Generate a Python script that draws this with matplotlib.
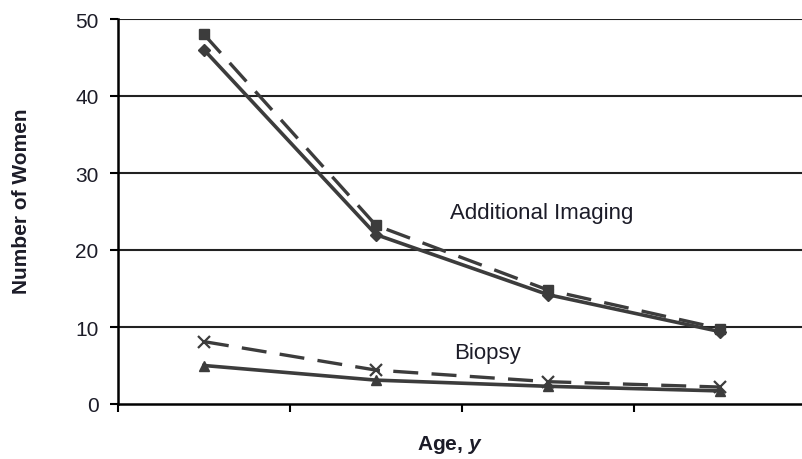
import numpy as np
import matplotlib
matplotlib.use("Agg")
from matplotlib import pyplot as plt

plt.rcParams['font.family'] = ['Liberation Sans', 'DejaVu Sans']
plt.rcParams['mathtext.fontset'] = 'custom'
plt.rcParams['mathtext.bfit'] = 'Liberation Sans:italic:bold'

# four age groups (no labels shown on the axis)
groups = [0.5, 1.5, 2.5, 3.5]
imaging_dashed = [48.0, 23.2, 14.8, 9.8]
imaging_solid = [46.0, 22.0, 14.2, 9.4]
biopsy_dashed = [8.1, 4.4, 2.9, 2.2]
biopsy_solid = [5.0, 3.1, 2.3, 1.7]
y_ticks = [0, 10, 20, 30, 40, 50]

col = '#3c3c3c'
txt = '#1c1c28'
dash = (0, (7.5, 4))

fig = plt.figure(figsize=(8.03, 4.6), dpi=100)
ax = fig.add_axes([118/803, 1-405/460, 688/803, 385/460])

ax.plot(groups, imaging_dashed, color=col, lw=2.4, ls=dash,
        marker='s', ms=7)
ax.plot(groups, imaging_solid, color=col, lw=2.6, marker='D', ms=6)
ax.plot(groups, biopsy_dashed, color=col, lw=2.4, ls=dash,
        marker='x', ms=8, mew=1.6)
ax.plot(groups, biopsy_solid, color=col, lw=2.6, marker='^', ms=7)

ax.set_xlim(0, 4)
ax.set_ylim(0, 50)
ax.set_xticks([0, 1, 2, 3, 4])
ax.set_xticklabels([])
ax.set_yticks(y_ticks)
ax.tick_params(axis='y', direction='out', length=6, width=1.5,
               labelsize=15, labelcolor=txt, pad=8)
ax.tick_params(axis='x', direction='out', length=6, width=1.5)
for y in y_ticks[1:]:
    ax.axhline(y, color='#222222', lw=1.5, zorder=0)
for s in ['top', 'right']:
    ax.spines[s].set_visible(False)
ax.spines['left'].set_linewidth(1.8)
ax.spines['bottom'].set_linewidth(1.8)

ax.text(2.465, 24.9, 'Additional Imaging', fontsize=16, color=txt,
        ha='center', va='center')
ax.text(2.15, 6.75, 'Biopsy', fontsize=16, color=txt,
        ha='center', va='center')

fig.text(22/803, 1-201/460, 'Number of Women', fontsize=15,
         fontweight='bold', color=txt, rotation=90, ha='center', va='center')
fig.text(450/803, 1-445/460, 'Age, $\\mathbfit{y}$', fontsize=15,
         fontweight='bold', color=txt, ha='center', va='center')

fig.savefig('out.png', dpi=100)
